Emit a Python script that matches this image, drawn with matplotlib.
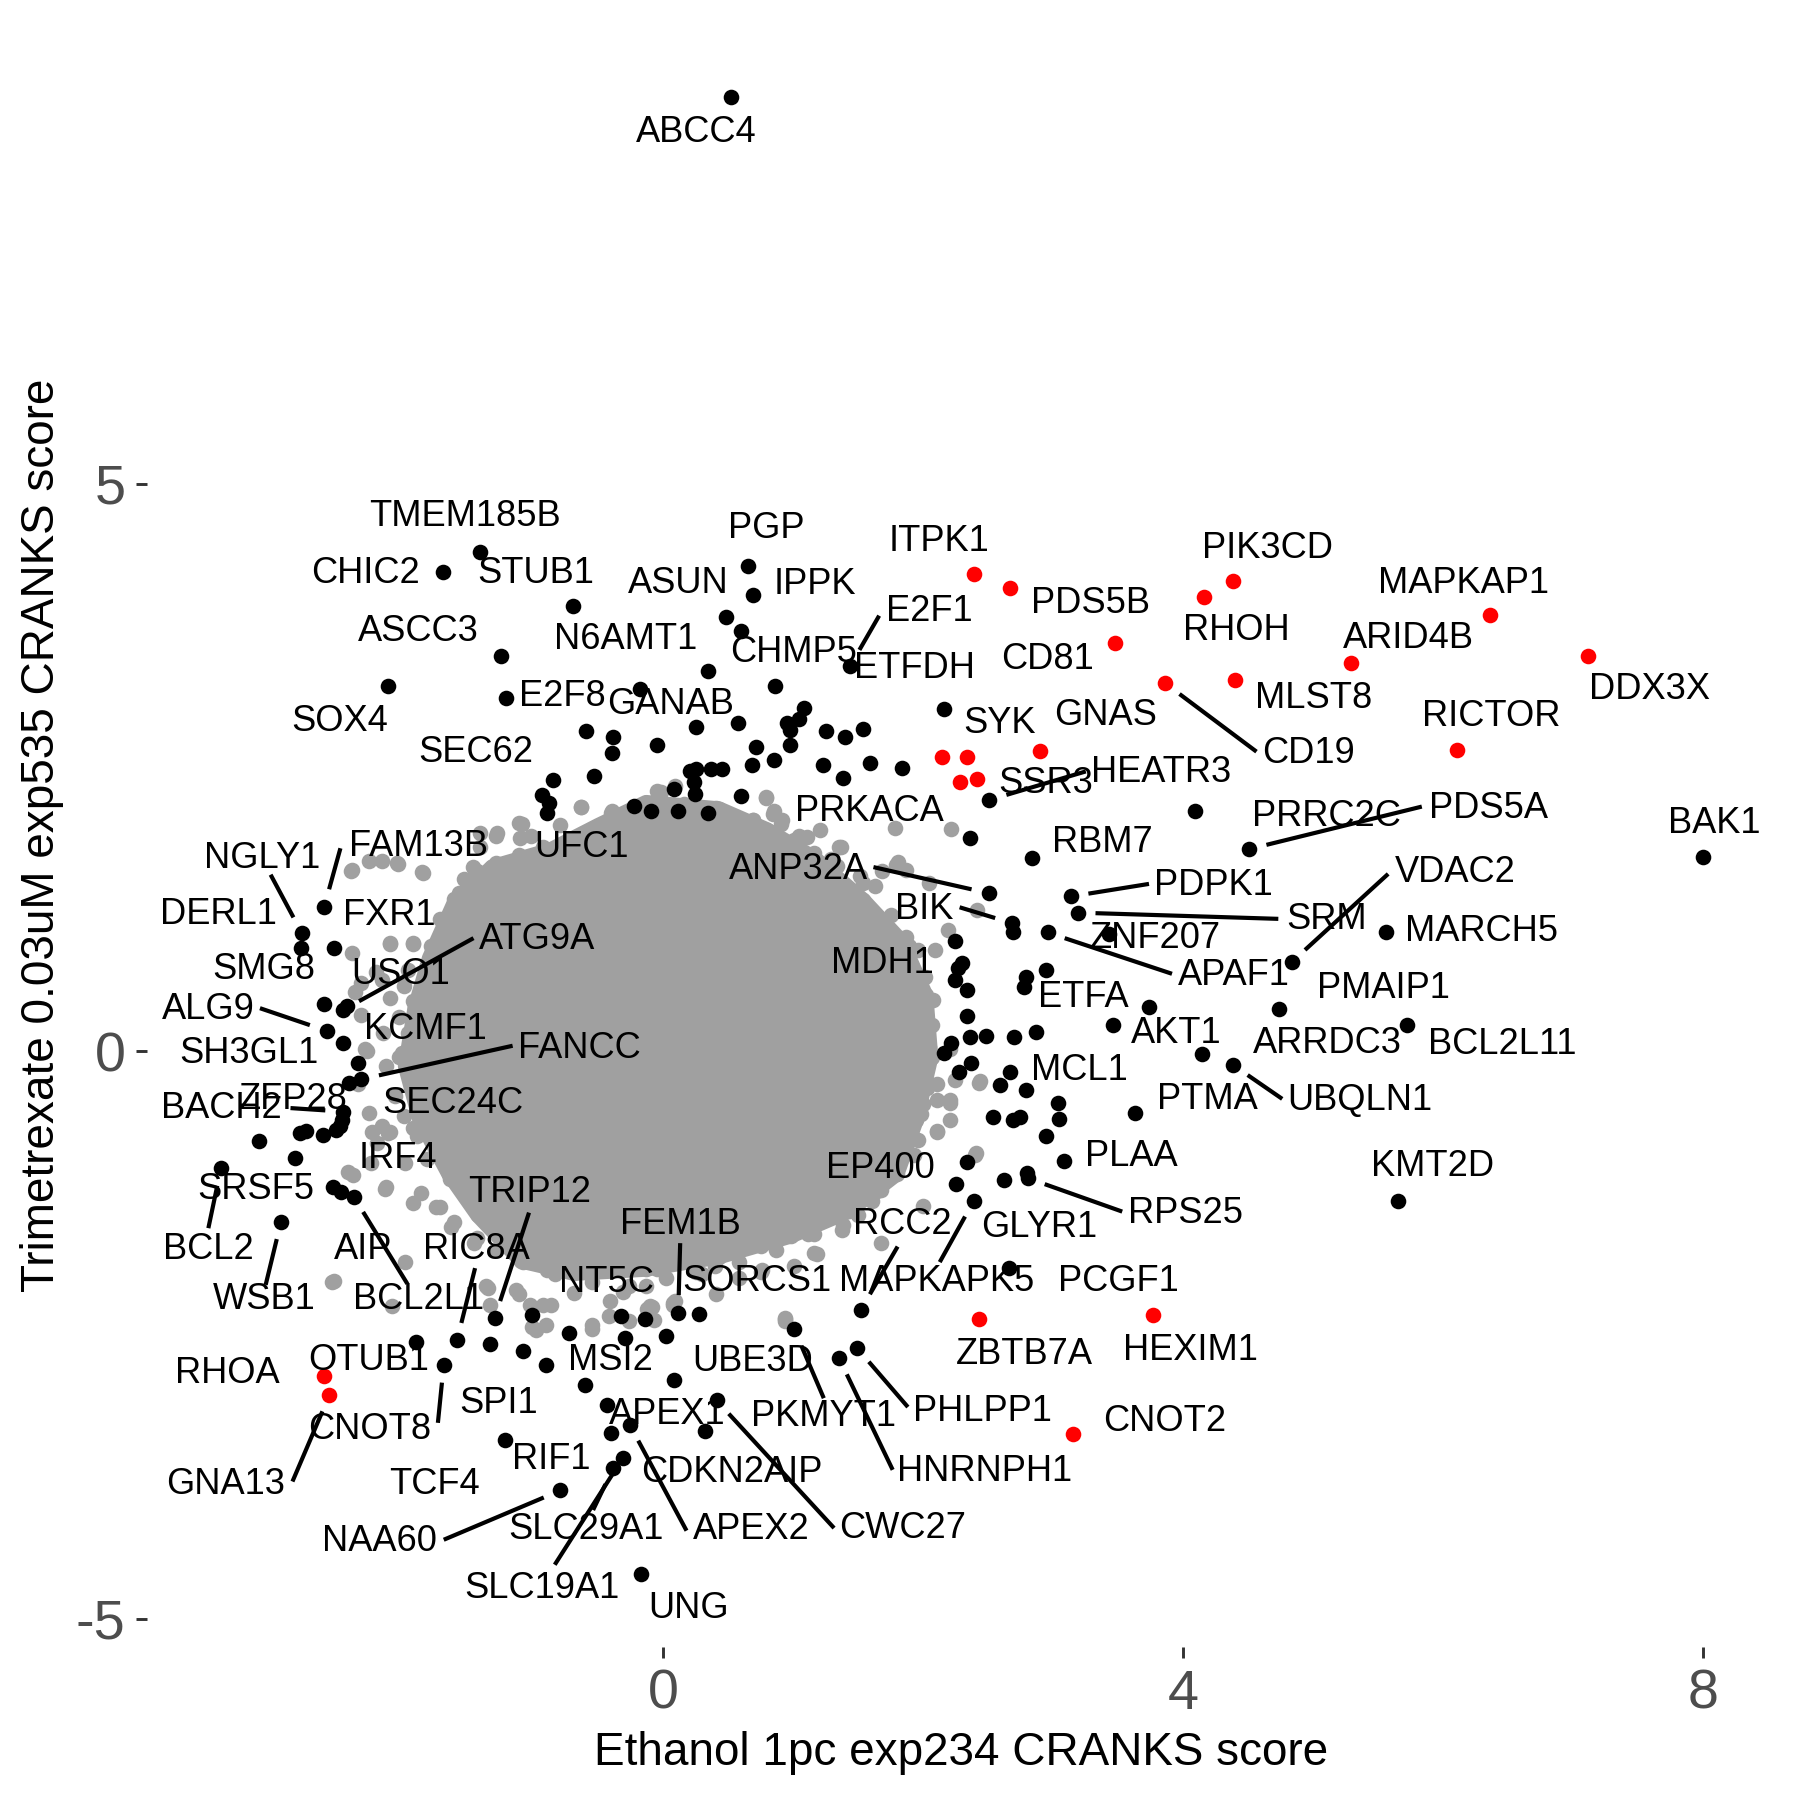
import matplotlib
matplotlib.use("Agg")
import matplotlib.pyplot as plt
import numpy as np

plt.rcParams['font.family'] = ['Liberation Sans', 'DejaVu Sans']
plt.rcParams['axes.unicode_minus'] = False

# ---------------- data ----------------
x_title = "Ethanol 1pc exp234 CRANKS score"
y_title = "Trimetrexate 0.03uM exp535 CRANKS score"
x_ticks = [0, 4, 8]
y_ticks = [-5, 0, 5]
y_tick_labels = ["-5", "0", "5"]

# outline of the dense core of non-hit genes (too many overlapping points to list)
core_x = [-0.129, 0.431, 0.798, 1.170, 1.540, 1.838, 2.022, 2.060, 1.949, 1.800, 1.429, 0.984,
          0.431, -0.129, -0.682, -1.090, -1.424, -1.647, -1.869, -1.980, -1.906, -1.795, -1.609,
          -1.313, -0.868, -0.496]
core_y = [2.192, 2.136, 1.953, 1.698, 1.333, 0.967, 0.493, -0.055, -0.602, -1.078, -1.407, -1.625,
          -1.808, -1.917, -1.954, -1.845, -1.442, -1.078, -0.602, -0.128, 0.384, 0.822, 1.297,
          1.625, 1.772, 1.990]

# scattered non-hit genes around the core
gray_x = [-0.633, -0.396, -0.015, 0.091, 0.791, 0.851, 0.911, 2.219, 1.045, 1.371, 0.798, -1.110,
          -1.287, -1.011, -2.400, -2.047, -1.852, -2.259, -1.464, -1.322, -1.393, -1.499, -1.605,
          -2.100, -1.923, -2.206, -2.365, -2.100, -1.923, -2.029, -2.153, -2.294, -2.347, -2.241,
          -2.100, -1.923, -1.711, -2.383, -2.135, -1.923, -1.746, -1.605, -1.428, -1.287, -2.542,
          -1.358, -1.110, -0.863, -0.898, -0.545, -0.404, -0.121, -0.262, 0.091, 0.409, 0.586,
          0.763, 0.939, 1.010, 1.187, 1.381, 1.505, 1.646, 1.788, 1.929, 2.106, 2.212, 2.406,
          2.000, 2.106, 2.247, 2.441, 2.212, 2.070, 2.000, 1.823, 1.646, 1.470, 1.363, 1.576,
          1.682, 1.152, 2.212,
          -2.532, -2.084, -1.333, -1.024, -0.921, -0.980, -0.544, -0.412, -0.087, -0.072, 0.074,
          0.943, 0.796, 0.855, 0.913, 0.678, 1.105, 1.208, 1.355, 1.783, 1.797, 1.871, -0.388,
          2.194, 2.092, 2.415, 2.430, 2.209, 2.106, 2.401, 2.004, 1.679, 1.606, 1.679, 1.385,
          0.943, 0.074, -0.102, 1.164, -2.393, -2.158, -2.040, -1.849, -1.407, -1.275, -1.098,
          -0.789, -0.633,
          -2.393, -2.099, -1.922, -1.598, -2.320, -2.158, -1.834, -2.320, -2.276, -2.128, -2.011,
          -2.261, -2.158, -2.202, -2.114, -2.246, -1.981, -2.423, -2.128, -1.863, -1.716, -1.981,
          -1.628, -1.451, -1.348, -1.127, -0.891, -0.686, -1.010,
          1.576, 1.708, 1.871, 1.959, 2.018, 2.077, 1.989, 2.048, 1.959, 1.841, 2.106, 1.989,
          1.871, 1.959, 1.753, 1.576, 1.429, 1.282, 1.105, 1.282, 0.988, 0.869, 1.164, 0.752,
          0.546, 0.398, 0.251, -0.043, -0.132, -0.308, 0.752,
          -0.043, -0.191, 0.251, 0.487, 0.693, 0.928, 1.164, 1.341, 1.518, 1.635, 2.048, 1.812,
          -1.083, -1.407, -1.304, -1.481, -1.569, -1.186, -0.921, -0.626,
          -1.534, -1.428, -1.287, -1.110, -1.605, -1.711, -1.782,
          -1.958, -1.994, -1.958, -2.029, -2.064, -1.994, -1.888, -1.817, -1.640,
          -1.464, -1.252, -1.075, -0.828, -0.545, -0.262, 0.021, 0.304, 0.586, 0.869, 1.116,
          1.363, 1.576,
          1.788, 1.929, 2.035, 2.070, 2.000, 1.894, 1.752, 1.540, 1.293,
          1.010, 0.692, 0.409, 0.162, -0.121, -0.404, -0.686, -0.898]
gray_y = [2.152, 2.100, 2.284, 2.336, 2.232, 2.093, 2.006, 1.964, 1.901, 1.804, 1.849, 2.013,
          1.901, 1.901, 1.588, 1.658, 1.578, 1.675, 1.623, 1.519, 1.380, 1.240, 1.032,
          0.945, 0.945, 0.701, 0.527, 0.475, 0.441, 0.301, 0.162, 0.023, -0.290, -0.707,
          -0.707, -0.672, -0.846, -1.090, -1.212, -1.333, -1.368, -1.507, -1.646, -1.751, -2.029,
          -2.064, -2.133, -2.238, -2.411, -2.411, -2.203, -2.272, -2.377, -2.203, -2.133, -1.994,
          -1.925, -2.377, -1.890, -1.785, -1.577, -1.438, -1.229, -1.020, -0.916, -0.707, -0.603,
          -0.899, -0.464, -0.290, -0.255, -0.262, 0.023, 0.232, 0.441, 0.788, 1.136, 1.380, 0.997,
          1.275, 1.588, 1.623, -0.429,
          -2.021, -2.247, -2.238, -2.238, -2.238, -2.458, -2.443, -2.332, -2.250, -2.367, -2.236,
          -2.353, 2.245, 2.119, 2.040, 1.862, 1.892, 1.950, 1.805, 1.967, 1.644, 1.601, 2.118,
          1.072, 0.896, 1.247, -0.279, -0.455, -0.704, -0.909, -1.365, -1.217, -1.320, -1.687,
          -1.526, -2.348, -2.216, -2.245, -1.775, 1.598, 1.682, 1.652, 1.570, 1.925, 1.925, 1.881,
          1.998, 2.154,
          0.867, 0.955, 0.955, 1.041, 0.602, 0.630, 0.455, 0.324, 0.000, -0.132, -0.015,
          -0.544, -0.661, -0.809, -0.720, -0.987, -0.987, -1.061, -1.192, -1.251, -1.368, -1.853,
          -1.544, -1.692, -2.088, -2.103, -1.927, -2.132, -2.426,
          1.217, 1.129, 1.012, 0.896, 0.657, 0.452, 0.216, 0.040, -0.195, -0.312, -0.430, -0.547,
          -0.664, -0.782, -0.870, -0.958, -1.105, -1.222, -1.340, -1.369, -1.457, -1.574, -1.604,
          -1.712, -1.770, -1.888, -1.946, -1.917, -2.065, -2.123, -1.946,
          2.293, 2.041, 2.070, 1.953, 2.041, 1.836, 1.748, 1.631, 1.543, 1.455, 1.484, 1.672,
          2.005, 1.805, 1.628, 1.511, 1.393, 1.481, 1.805, 1.893,
          1.519, 1.588, 1.658, 1.727, 1.345, 1.171, 0.927,
          0.719, 0.580, 0.162, -0.046, -0.394, -0.568, -0.742, -0.951, -1.125,
          -1.368, -1.612, -1.855, -1.959, -2.029, -2.064, -1.994, -1.959, -1.855, -1.751, -1.612,
          -1.438, -1.194,
          -0.846, -0.603, -0.325, -0.046, 0.649, 0.927, 1.206, 1.484, 1.693,
          1.866, 2.040, 2.145, 2.180, 2.145, 2.006, 1.866, 1.727]

# hit genes (black)
black_x = [0.523, -1.407, -1.695, -0.694, -1.245, -2.114, -1.207, -0.588, -0.847, -0.529,
           -0.927, -0.877, -0.891, 0.655, 0.693, 0.484, 0.604, 0.348, 1.443, 0.864,
           -0.176, 2.165, 0.251, 0.575, 1.085, 1.046, 0.958, 0.981, -0.382, -0.388,
           -0.043, 1.253, 1.399, 1.541, 0.716, 0.981, 0.855, 0.687, 0.207, 0.251,
           0.369, 0.451, 0.237, 0.246, 0.083, 0.604, 1.231, 1.382, 1.594, 1.836,
           -0.226, -0.094, 0.118, 0.348, 2.510, 2.362, 2.843, 2.510, 3.137, 4.094,
           4.509, 8.004, 4.838, 5.565, 4.744, 5.722, 4.147, 4.385, 5.657, 2.689,
           2.695, 2.960, 3.190, 3.431, 2.247, 2.298, 2.269, 2.247, 2.945, 2.792,
           2.777, 2.342, 3.740, 2.342, 3.461, 2.366, 2.489, 2.701, 2.872, 2.218,
           2.165, 2.371, 2.277, 2.671, 2.592, 2.790, 3.040, 3.049, 3.632, 2.542,
           2.695, 2.748, 2.945, 3.084, 2.336, 2.254, 2.622, 2.799, 2.807, 2.392,
           2.666, 1.523, 0.118, 0.275, -0.323, -0.138, 0.025, -0.293, 1.011, 0.083,
           -0.432, 0.413, -0.397, -0.255, 0.325, -0.308, -0.382, 1.355, 1.494, -0.167,
           -1.295, -1.010, -0.724, -1.898, -1.584, -1.333, -1.074, -0.898, -0.597, -1.686,
           -1.216, -0.789, -2.605, -2.777, -2.782, -2.534, -2.605, -2.459, -2.429, -2.585,
           -2.459, -2.349, -2.320, -2.417, -2.459, -2.467, -2.488, -2.512, -2.791, -2.746,
           -2.614, -3.106, -2.830, -3.400, -2.541, -2.476, -2.379, -2.938]
black_y = [8.41, 4.40, 4.22, 3.92, 3.48, 3.22, 3.11, 2.82, 2.39, 2.43,
           2.26, 2.19, 2.10, 4.28, 4.02, 3.83, 3.70, 3.35, 3.40, 3.22,
           3.19, 3.02, 2.86, 2.89, 3.03, 2.93, 2.89, 2.83, 2.77, 2.63,
           2.70, 2.82, 2.77, 2.84, 2.68, 2.70, 2.57, 2.52, 2.47, 2.49,
           2.49, 2.49, 2.37, 2.27, 2.31, 2.25, 2.52, 2.41, 2.54, 2.50,
           2.16, 2.12, 2.12, 2.10, 2.215, 1.879, 1.702, 1.393, 1.365, 2.114,
           1.782, 1.717, 0.787, 1.056, 0.372, 0.234, -0.021, -0.118, -1.317, 1.129,
           1.056, 1.048, 1.223, 1.033, 0.977, 0.783, 0.733, 0.630, 0.718, 0.654,
           0.566, 0.537, 0.389, 0.313, 0.234, 0.131, 0.138, 0.131, 0.175, 0.078,
           -0.015, -0.103, -0.177, -0.185, -0.300, -0.344, -0.450, -0.597, -0.544, -0.579,
           -0.603, -0.579, -0.743, -0.964, -0.970, -1.167, -1.131, -1.072, -1.116, -1.316,
           -1.904, -2.276, -2.305, -2.315, -2.330, -2.356, -2.506, -2.526, -2.447, -2.899,
           -3.113, -3.075, -3.362, -3.289, -3.348, -3.582, -3.670, -2.702, -2.614, -4.602,
           -2.350, -2.321, -2.481, -2.561, -2.546, -2.575, -2.635, -2.760, -2.936, -2.760,
           -3.422, -3.868, 1.276, 1.041, 0.910, 0.910, 0.419, 0.366, 0.401, 0.181,
           0.078, -0.098, -0.245, -0.274, -0.530, -0.603, -0.661, -0.691, -0.720, -0.697,
           -0.735, -0.785, -0.940, -1.028, -1.190, -1.235, -1.279, -1.499]

# highlighted genes (red)
red_x = [2.392, 2.671, 3.481, 3.864, 2.901, 2.150, 2.342, 2.283, 2.415, 4.390, 4.161,
         6.364, 5.295, 4.403, 7.120, 6.110, 2.430, 3.770, 3.152, -2.605, -2.565]
red_y = [4.203, 4.085, 3.596, 3.244, 2.647, 2.598, 2.598, 2.371, 2.398, 4.145, 4.006,
         3.845, 3.426, 3.273, 3.484, 2.656, -2.358, -2.321, -3.371, -2.857, -3.025]

# gene labels
label_text = ["ABCC4", "TMEM185B", "CHIC2", "STUB1", "ASCC3", "N6AMT1", "E2F8", "SOX4", "SEC62",
              "PGP", "ITPK1", "ASUN", "IPPK", "PDS5B", "E2F1", "CHMP5", "ETFDH", "CD81", "GANAB",
              "SYK", "GNAS", "SSR3", "HEATR3", "PRKACA", "RBM7", "ANP32A", "PIK3CD", "RHOH",
              "MAPKAP1", "ARID4B", "MLST8", "DDX3X", "RICTOR", "CD19", "PDS5A", "PRRC2C", "BAK1",
              "VDAC2", "PDPK1", "BIK", "SRM", "ZNF207", "MARCH5", "MDH1", "APAF1", "ETFA",
              "PMAIP1", "AKT1", "ARRDC3", "BCL2L11", "MCL1", "PTMA", "UBQLN1", "PLAA", "KMT2D",
              "EP400", "RPS25", "RCC2", "GLYR1", "FEM1B", "TRIP12", "NT5C", "SORCS1", "MAPKAPK5",
              "PCGF1", "ZBTB7A", "HEXIM1", "UBE3D", "MSI2", "PHLPP1", "PKMYT1", "APEX1", "CNOT2",
              "HNRNPH1", "CDKN2AIP", "APEX2", "CWC27", "UNG", "SLC29A1", "SLC19A1", "NAA60",
              "RIF1", "TCF4", "SPI1", "CNOT8", "GNA13", "OTUB1", "RHOA", "WSB1", "BCL2L1", "BCL2",
              "AIP", "RIC8A", "SRSF5", "IRF4", "BACH2", "ZFP28", "SEC24C", "SH3GL1", "KCMF1",
              "FANCC", "ALG9", "USO1", "SMG8", "ATG9A", "DERL1", "FXR1", "NGLY1", "FAM13B", "UFC1"]
label_x = [0.260, -1.525, -2.291, -0.980, -1.878, -0.288, -0.774, -2.488, -1.443,
           0.796, 2.121, 0.118, 1.170, 3.290, 2.048, 1.002, 1.936, 2.960, 0.060,
           2.592, 3.402, 2.945, 3.837, 1.585, 3.378, 1.046, 4.655, 4.412,
           6.157, 5.737, 5.006, 7.592, 6.369, 4.971, 6.355, 5.103, 8.092,
           6.099, 4.235, 2.012, 5.103, 3.793, 6.296, 1.688, 4.394, 3.231,
           5.545, 3.952, 5.112, 6.458, 3.205, 4.191, 5.362, 3.602, 5.922,
           1.673, 4.023, 1.841, 2.896, 0.133, -1.024, -0.438, 0.723, 2.106,
           3.505, 2.784, 4.058, 0.693, -0.403, 2.459, 1.238, 0.030, 3.864,
           2.474, 0.531, 0.684, 1.847, 0.198, -0.588, -0.933, -2.178,
           -0.862, -1.754, -1.266, -2.252, -3.365, -2.267, -3.351, -3.071, -1.878, -3.497,
           -2.305, -1.436, -3.135, -2.040, -3.395, -2.841, -1.613, -3.183, -1.828,
           -0.641, -3.497, -2.017, -3.071, -0.966, -3.418, -2.105, -3.086, -1.884, -0.624]
label_y = [8.099, 4.711, 4.212, 4.212, 3.699, 3.630, 3.124, 2.906, 2.632,
           4.609, 4.490, 4.124, 4.110, 3.948, 3.875, 3.517, 3.375, 3.455, 3.053,
           2.891, 2.956, 2.363, 2.457, 2.113, 1.840, 1.606, 4.433, 3.711,
           4.124, 3.640, 3.111, 3.185, 2.949, 2.627, 2.143, 2.069, 2.010,
           1.575, 1.466, 1.253, 1.159, 0.991, 1.056, 0.778, 0.667, 0.478,
           0.557, 0.162, 0.067, 0.058, -0.168, -0.425, -0.436, -0.926, -1.014,
           -1.028, -1.426, -1.526, -1.551, -1.526, -1.244, -2.032, -2.027, -2.027,
           -2.027, -2.672, -2.639, -2.731, -2.720, -3.172, -3.215, -3.200, -3.256,
           -3.701, -3.711, -4.214, -4.199, -4.904, -4.216, -4.732, -4.316,
           -3.598, -3.818, -3.098, -3.333, -3.812, -2.725, -2.834, -2.188, -2.188, -1.748,
           -1.748, -1.748, -1.219, -0.940, -0.499, -0.421, -0.462, -0.015, 0.190,
           0.030, 0.366, 0.674, 0.718, 0.983, 1.203, 1.194, 1.702, 1.805, 1.800]

# leader segments: label-side end -> labelled point
seg_from_x = [-3.018, -2.481, -1.457, -3.100, -1.156, -2.865, -3.497, -3.056, -1.966, -1.030,
              -1.445, -1.731, -2.850, -1.686, -0.832, -0.537, 0.182, 1.317, 1.238, 1.768,
              1.885, 1.806, 2.130, 0.133, 3.534, 4.765, 3.917, 4.735, 5.580, 2.283,
              3.740, 1.620, 3.254, 5.839, 4.567, 1.664]
seg_from_y = [1.557, 1.790, 0.998, 0.381, 0.050, -0.499, -1.557, -2.056, -2.047, -1.420,
              -1.909, -3.272, -3.789, -4.302, -4.522, -4.040, -4.222, -4.199, -3.055, -3.686,
              -3.133, -1.719, -1.856, -1.689, -1.411, -0.418, 0.684, 1.168, 1.564, 1.270,
              1.476, 1.624, 2.467, 2.157, 2.641, 3.839]
seg_to_x = [-2.777, -2.605, -2.459, -2.585, -2.320, -2.459, -3.400, -2.938, -2.379, -1.295,
            -1.584, -1.686, -2.565, -0.789, -0.308, -0.382, -0.255, 0.413, 1.011, 1.355,
            1.494, 1.523, 2.392, 0.118, 2.807, 4.385, 2.960, 3.190, 4.838, 2.689,
            3.137, 2.510, 2.510, 4.509, 3.864, 1.443]
seg_to_y = [1.041, 1.276, 0.366, 0.181, -0.245, -0.530, -1.028, -1.499, -1.279, -2.350,
            -2.546, -2.760, -3.025, -3.868, -3.582, -3.670, -3.289, -3.075, -2.447, -2.702,
            -2.614, -2.276, -1.316, -2.305, -1.116, -0.118, 1.048, 1.223, 0.787, 1.129,
            1.365, 1.393, 2.215, 1.782, 3.244, 3.40]

# ---------------- plot ----------------
GRAY = "#A0A0A0"
MS = 14

fig = plt.figure(figsize=(6, 6), dpi=300)
ax = fig.add_axes([0.0816, 0.0848, 0.9055, 0.9024])
ax.set_xlim(-3.97, 8.57)
ax.set_ylim(-5.25, 9.06)

ax.fill(core_x, core_y, facecolor=GRAY, edgecolor=GRAY, linewidth=3.7,
        joinstyle="round", zorder=1)
ax.scatter(core_x, core_y, s=MS, c=GRAY, linewidths=0, zorder=1)
ax.scatter(gray_x, gray_y, s=MS, c=GRAY, linewidths=0, zorder=1)
ax.scatter(black_x, black_y, s=MS, c="black", linewidths=0, zorder=2)
ax.scatter(red_x, red_y, s=MS, c="#FF0000", linewidths=0, zorder=3)

trans = ax.transData
inv = trans.inverted()
trim = 18.0  # px gap left near the point
for fx, fy, tx, ty in zip(seg_from_x, seg_from_y, seg_to_x, seg_to_y):
    p0 = trans.transform((fx, fy))
    p1 = trans.transform((tx, ty))
    d = p1 - p0
    L = np.hypot(*d)
    p1t = p1 - d / L * trim
    a = inv.transform(p0)
    b = inv.transform(p1t)
    ax.plot([a[0], b[0]], [a[1], b[1]], color="black", lw=1.0,
            solid_capstyle="butt", zorder=4)

for t, lx, ly in zip(label_text, label_x, label_y):
    ax.text(lx, ly, t, ha="center", va="center", fontsize=8.7, color="black", zorder=5)

for s in ax.spines.values():
    s.set_visible(False)
ax.set_xticks(x_ticks)
ax.set_xticklabels([str(v) for v in x_ticks])
ax.set_yticks(y_ticks)
ax.set_yticklabels(y_tick_labels)
ax.tick_params(axis="both", length=2.7, width=0.7, color="#333333",
               labelsize=13.4, labelcolor="#4D4D4D", pad=2.4)

fig.text(0.534, 0.026, x_title, ha="center", va="center", fontsize=11, color="black")
fig.text(0.0236, 0.536, y_title, ha="center", va="center", rotation=90, fontsize=11,
         color="black")

fig.savefig("out.png", dpi=300, facecolor="white")
